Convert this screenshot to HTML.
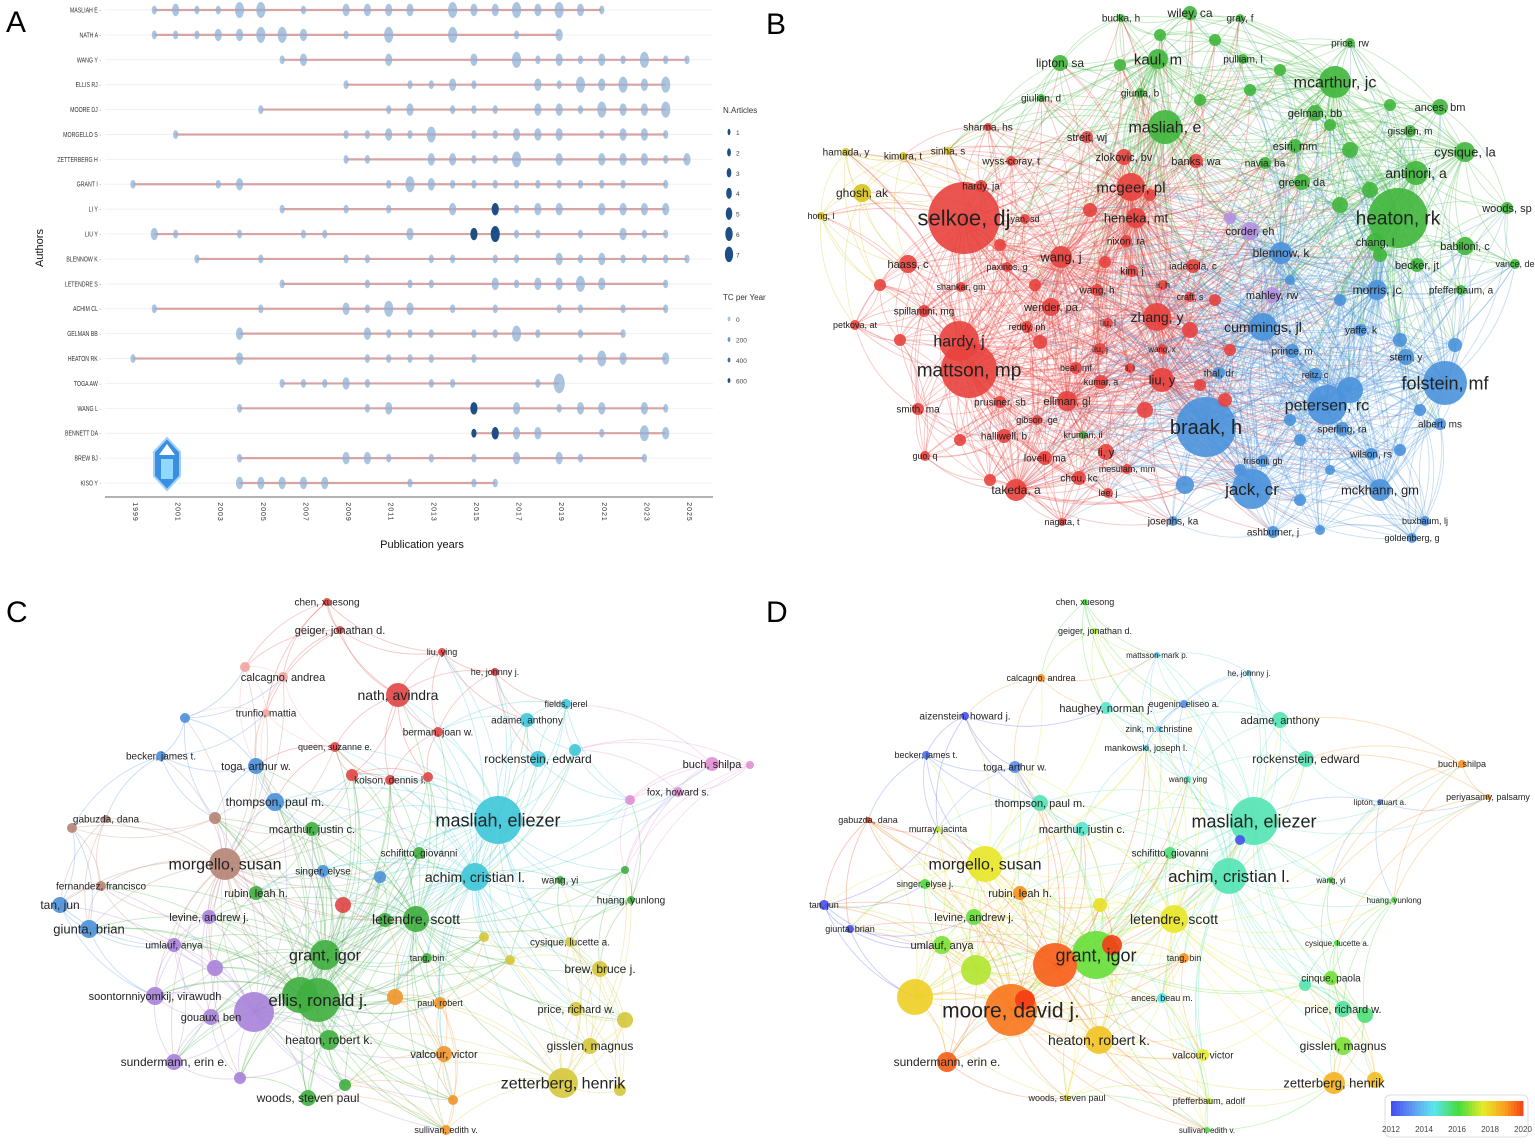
<!DOCTYPE html>
<html><head><meta charset="utf-8">
<style>
html,body{margin:0;padding:0;background:#fff;}
svg{display:block;font-family:"Liberation Sans",sans-serif;}
</style></head>
<body>
<svg id="fig" width="1535" height="1144" viewBox="0 0 1535 1144">
<rect width="1535" height="1144" fill="#fff"/>
<text x="6" y="32" font-size="30">A</text>
<text x="766" y="34" font-size="30">B</text>
<text x="6" y="622" font-size="30">C</text>
<text x="766" y="622" font-size="30">D</text>
<g id="panelA"></g>
<g id="panelB"></g>
<g id="panelC"></g>
<g id="panelD"></g>
</svg>
<script>
// ---------- Panel A data ----------
const authors = ["MASLIAH E","NATH A","WANG Y","ELLIS RJ","MOORE DJ","MORGELLO S","ZETTERBERG H","GRANT I","LI Y","LIU Y","BLENNOW K","LETENDRE S","ACHIM CL","GELMAN BB","HEATON RK","TOGA AW","WANG L","BENNETT DA","BREW BJ","KISO Y"];
const yearTicks = [1999,2001,2003,2005,2007,2009,2011,2013,2015,2017,2019,2021,2023,2025];
const pubYears = [
[2000,2001,2002,2003,2004,2005,2007,2009,2010,2011,2012,2014,2015,2016,2017,2018,2019,2020,2021],
[2000,2001,2002,2003,2004,2005,2006,2007,2009,2011,2014,2017,2019],
[2006,2007,2011,2015,2017,2018,2019,2020,2021,2022,2023,2024,2025],
[2009,2012,2013,2014,2015,2018,2019,2020,2021,2022,2023,2024],
[2005,2011,2012,2014,2015,2016,2018,2019,2020,2021,2022,2023,2024],
[2001,2009,2010,2011,2012,2013,2015,2016,2017,2018,2019,2021,2022,2023,2024],
[2009,2010,2013,2014,2015,2016,2017,2019,2021,2022,2023,2024,2025],
[1999,2003,2004,2011,2012,2013,2014,2015,2016,2017,2018,2019,2020,2021,2022,2024],
[2006,2009,2011,2014,2016,2017,2018,2019,2021,2022,2023,2024],
[2000,2001,2004,2007,2008,2012,2015,2016,2017,2018,2020,2022,2023,2024],
[2002,2005,2009,2010,2013,2014,2016,2017,2019,2020,2021,2022,2023,2024,2025],
[2006,2010,2012,2013,2016,2017,2018,2019,2020,2021,2024],
[2000,2005,2009,2010,2011,2012,2014,2016,2019,2020,2022,2024],
[2004,2010,2011,2012,2013,2015,2016,2017,2018,2020,2022],
[1999,2004,2010,2011,2012,2013,2015,2020,2021,2022,2024],
[2006,2007,2008,2009,2010,2013,2014,2018,2019],
[2004,2010,2011,2015,2017,2019,2020,2021,2023,2024],
[2015,2016,2017,2018,2021,2023,2024],
[2004,2009,2010,2011,2013,2015,2017,2019,2020,2023],
[2004,2005,2006,2007,2008,2012,2015,2016]];
const nArticles = [
[1,2,1,1,3,3,1,2,2,2,2,3,2,2,3,2,3,2,1],
[1,1,1,2,2,3,3,2,1,3,3,1,2],
[1,2,2,2,3,1,2,1,2,1,3,1,1],
[1,1,1,2,1,2,1,3,2,3,2,3],
[1,1,2,1,1,1,2,2,1,3,2,2,3],
[1,1,1,2,1,3,1,1,2,2,2,1,2,2,1],
[1,1,2,2,1,1,3,2,2,2,2,1,2],
[1,1,2,1,3,2,1,1,1,1,1,1,1,1,1,1],
[1,1,1,2,2,1,2,2,2,2,2,2],
[2,1,1,1,1,2,2,3,1,1,1,2,1,1],
[1,1,1,1,1,1,1,1,2,1,2,1,1,1,1],
[1,1,1,1,2,1,2,2,3,2,1],
[1,1,2,1,3,2,1,1,1,1,1,1],
[2,2,1,1,1,1,1,3,1,1,1],
[1,2,1,1,1,1,1,1,3,2,2],
[1,1,1,2,1,1,1,1,4],
[1,1,2,2,2,1,2,2,2,1],
[1,2,2,2,1,3,2],
[1,2,2,1,1,1,2,2,1,1],
[2,2,2,2,2,1,1,1]];
const tcHigh = [[],[],[],[],[],[],[],[],[2016],[2015,2016],[],[],[],[],[],[],[2015],[2015,2016],[],[]];
const legendN = [1,2,3,4,5,6,7];
const legendTC = [0,200,400,600];

const NS="http://www.w3.org/2000/svg";
function el(tag, attrs, parent, text){const e=document.createElementNS(NS,tag);for(const k in attrs)e.setAttribute(k,attrs[k]);if(text!==undefined)e.textContent=text;parent.appendChild(e);return e;}

(function(){
  const g=document.getElementById('panelA');
  const xS=y=>133+(y-1999)*(687-133)/26;
  const yS=i=>10+i*(483-10)/19;
  authors.forEach((a,i)=>{
    const y=yS(i);
    const gl=el('line',{x1:105,x2:713,y1:y,y2:y,stroke:'#f0f0f0','stroke-width':1},g);
    
    
    const t=el('text',{x:101,y:y+2.5,'font-size':7,'text-anchor':'end',fill:'#333',transform:`translate(${101},${y}) scale(0.75,1) translate(${-101},${-y})`},g,a+' ·');
    
    
    const ys=pubYears[i];
    const ln=el('line',{x1:xS(ys[0]),x2:xS(ys[ys.length-1]),y1:y,y2:y,stroke:'#d9a3a3','stroke-width':2.2},g);
    
    
    ys.forEach((yr,j)=>{
      const n=nArticles[i][j];
      const dark=tcHigh[i].includes(yr);
      const b=el('ellipse',{cx:xS(yr),cy:y,rx:1.6+n*1.0,ry:2.6+n*1.8,fill:dark?'#1d4f86':'#8fb0d6','fill-opacity':dark?1:0.75},g);
      
      
    });
  });
  const ax=el('line',{x1:105,x2:713,y1:497,y2:497,stroke:'#666','stroke-width':1},g);
  
  
  yearTicks.forEach(yr=>{
    const x=xS(yr);
    const tl=el('text',{x:x,y:512,'font-size':7,'text-anchor':'middle',fill:'#333',transform:`rotate(90 ${x} 512)`,'letter-spacing':'1'},g,String(yr));
    
    
  });
  const xt=el('text',{x:422,y:548,'font-size':11,'text-anchor':'middle',fill:'#111'},g,'Publication years');
  
  
  const yt=el('text',{x:43,y:248,'font-size':11,'text-anchor':'middle',fill:'#111',transform:'rotate(-90 43 248)'},g,'Authors');
  
  
  const lt=el('text',{x:723,y:113,'font-size':8,fill:'#333'},g,'N.Articles');
  
  
  legendN.forEach((n,k)=>{
    const y=132+k*20.4;
    const d=el('ellipse',{cx:729,cy:y,rx:1+n*0.45,ry:2.5+n*0.75,fill:'#1d4f86'},g);
    
    
    el('text',{x:736,y:y+3,'font-size':6.5,fill:'#444'},g,String(n));
  });
  const lt2=el('text',{x:723,y:300,'font-size':8,fill:'#333'},g,'TC per Year');
  
  
  const tcCols=['#a9c3e0','#6d95c4','#3d6ea6','#1d4f86'];
  legendTC.forEach((v,k)=>{
    const y=319+k*20.5;
    const d=el('ellipse',{cx:729,cy:y,rx:1.4,ry:2.4,fill:tcCols[k]},g);
    
    
    el('text',{x:736,y:y+3,'font-size':6.5,fill:'#444'},g,String(v));
  });
  const lg=el('g',{},g);
  
  
  el('polygon',{points:'167,438 180,452 180,476 167,490 154,476 154,452',fill:'#3a8fe0',stroke:'#9fd0ff','stroke-width':2},lg);
  el('polygon',{points:'167,444 175,455 159,455',fill:'#fff'},lg);
  el('rect',{x:161,y:459,width:12,height:20,fill:'#8fd8ff'},lg);
})();

// ---------- Network helpers ----------
function drawNetwork(gid, names, xs, ys, fs, rs, cols, k, edgeOp, bigR, bigRange){
  const g=document.getElementById(gid);
  const eg=el('g',{},g); const ng=el('g',{},g); const tg=el('g',{},g);
  const N=names.length;
  const done=new Set();
  function link(i,j){
    const key=i<j?i+'-'+j:j+'-'+i; if(done.has(key)) return; done.add(key);
    const mx=(xs[i]+xs[j])/2, my=(ys[i]+ys[j])/2;
    const dx=xs[j]-xs[i], dy=ys[j]-ys[i];
    const cx=mx-dy*0.2, cy=my+dx*0.2;
    const p=el('path',{d:`M${xs[i]},${ys[i]} Q${cx},${cy} ${xs[j]},${ys[j]}`,fill:'none',stroke:cols[i],'stroke-opacity':edgeOp,'stroke-width':0.9},eg);
    
    
  }
  for(let i=0;i<N;i++){
    const d=[];
    for(let j=0;j<N;j++) if(j!==i) d.push([Math.hypot(xs[i]-xs[j],ys[i]-ys[j]),j]);
    d.sort((a,b)=>a[0]-b[0]);
    for(let m=0;m<Math.min(k,d.length);m++) link(i,d[m][1]);
    if(rs[i]>=bigR){ d.forEach(([dist,j])=>{ if(dist<bigRange) link(i,j); }); }
  }
  for(let i=0;i<N;i++){
    const c=el('circle',{cx:xs[i],cy:ys[i],r:rs[i],fill:cols[i],'fill-opacity':0.9},ng);
    
    
    if(names[i]){
      const t=el('text',{x:xs[i],y:ys[i]+fs[i]*0.35,'font-size':fs[i],'text-anchor':'middle',fill:'#222'},tg,names[i]);
      
      
    }
  }
}

// ---------- Panel B ----------
const bCol={r:'#e8423e',g:'#40b63c',b:'#4a92db',y:'#d6c41c',p:'#b48fe2'};
const bNodes=[
["budka, h",1121,18,10,4,'g'],["wiley, ca",1190,13,12,7,'g'],["gray, f",1240,18,10,4,'g'],["price, rw",1350,43,10,5,'g'],
["lipton, sa",1060,63,12,8,'g'],["kaul, m",1158,59,15,10,'g'],["pulliam, l",1243,59,10,5,'g'],["mcarthur, jc",1335,82,16,16,'g'],
["giulian, d",1041,98,10,4,'g'],["giunta, b",1140,93,10,5,'g'],["ances, bm",1440,107,11,8,'g'],["masliah, e",1165,127,16,17,'g'],
["gelman, bb",1315,113,11,8,'g'],["sharma, hs",988,127,10,4,'r'],["streit, wj",1087,137,11,6,'r'],["gisslén, m",1410,131,10,6,'g'],
["esiri, mm",1295,146,11,7,'g'],["cysique, la",1465,152,13,10,'g'],["hamada, y",846,152,10,4,'y'],["kimura, t",903,156,10,4,'y'],
["sinha, s",948,151,10,4,'y'],["wyss-coray, t",1011,161,10,5,'r'],["zlokovic, bv",1124,157,11,8,'r'],["banks, wa",1196,161,11,7,'r'],
["navia, ba",1265,163,10,6,'g'],["antinori, a",1416,173,14,12,'g'],["mcgeer, pl",1131,187,15,14,'r'],["green, da",1302,182,11,8,'g'],
["hardy, ja",981,186,10,6,'r'],["ghosh, ak",862,193,12,9,'y'],["woods, sp",1507,208,11,6,'g'],["selkoe, dj",964,218,22,36,'r'],
["yan, sd",1025,219,9,5,'r'],["heneka, mt",1136,218,13,10,'r'],["heaton, rk",1398,218,19,30,'g'],["hong, l",821,216,9,4,'y'],
["corder, eh",1250,231,11,9,'p'],["chang, l",1375,242,11,9,'g'],["babiloni, c",1465,246,11,9,'g'],["haass, c",908,264,11,9,'r'],
["nixon, ra",1126,241,10,6,'r'],["wang, j",1061,257,13,11,'r'],["blennow, k",1281,253,12,11,'b'],["becker, jt",1417,265,11,7,'g'],
["vance, de",1515,264,9,5,'g'],["paxinos, g",1007,267,9,5,'r'],["kim, j",1132,271,10,6,'r'],["iadecola, c",1193,266,10,7,'r'],
["shankar, gm",961,287,9,5,'r'],["mahley, rw",1272,295,11,8,'p'],["morris, jc",1377,290,12,10,'b'],["pfefferbaum, a",1461,290,10,5,'g'],
["li, h",1163,285,9,5,'r'],["wang, h",1097,290,10,6,'r'],["craft, s",1190,297,9,5,'r'],["spillantini, mg",924,311,10,6,'r'],
["wender, pa",1051,307,11,9,'r'],["zhang, y",1157,317,14,14,'r'],["cummings, jl",1263,327,14,14,'b'],["petkova, at",855,325,9,5,'r'],
["reddy, ph",1027,327,9,6,'r'],["liu, l",1108,323,9,5,'r'],["yaffe, k",1361,330,10,6,'b'],["hardy, j",959,341,16,20,'r'],
["prince, m",1292,351,10,7,'b'],["mattson, mp",969,370,19,28,'r'],["liu, j",1100,349,9,6,'r'],["wang, x",1162,349,8,5,'r'],
["stern, y",1406,357,10,8,'b'],["beal, mf",1076,368,9,6,'r'],["li, l",1130,368,8,5,'r'],["liu, y",1162,380,13,12,'r'],
["kumar, a",1101,382,9,7,'r'],["thal, dr",1219,373,10,6,'b'],["reitz, c",1315,375,9,7,'b'],["folstein, mf",1445,383,18,22,'b'],
["ellman, gl",1067,401,11,10,'r'],["prusiner, sb",1000,402,10,6,'r'],["petersen, rc",1327,405,16,20,'b'],["braak, h",1206,427,20,30,'b'],
["smith, ma",918,409,10,6,'r'],["gibson, ge",1037,420,9,5,'r'],["sperling, ra",1342,429,10,7,'b'],["albert, ms",1440,424,10,6,'b'],
["halliwell, b",1004,436,10,7,'r'],["kruman, ii",1083,435,9,4,'g'],["li, y",1106,452,11,8,'r'],["wilson, rs",1371,454,10,6,'b'],
["frisoni, gb",1263,461,9,6,'b'],["guo, q",925,456,9,5,'r'],["lovell, ma",1045,458,10,7,'r'],["mesulam, mm",1127,469,9,5,'r'],
["chou, kc",1079,478,10,7,'r'],["jack, cr",1252,489,17,20,'b'],["mckhann, gm",1380,490,13,11,'b'],["takeda, a",1016,490,12,11,'r'],
["lee, j",1108,493,9,5,'r'],["nagata, t",1062,522,9,4,'r'],["josephs, ka",1173,521,10,5,'b'],["ashburner, j",1273,532,10,6,'b'],
["buxbaum, lj",1425,521,9,5,'b'],["goldenberg, g",1412,538,9,5,'b'],
["",880,285,0,6,'r'],["",900,340,0,6,'r'],["",1000,245,0,6,'r'],["",1035,285,0,6,'r'],["",1090,210,0,7,'r'],["",1150,195,0,6,'r'],
["",1105,262,0,6,'r'],["",1215,300,0,6,'r'],["",1190,330,0,8,'r'],["",1200,385,0,6,'r'],["",1145,410,0,8,'r'],["",1040,342,0,7,'r'],
["",960,440,0,6,'r'],["",990,480,0,6,'r'],["",1225,400,0,7,'r'],["",1230,350,0,6,'r'],
["",1120,65,0,6,'g'],["",1250,90,0,6,'g'],["",1215,40,0,6,'g'],["",1280,70,0,6,'g'],["",1350,150,0,8,'g'],["",1370,190,0,8,'g'],
["",1340,205,0,8,'g'],["",1380,255,0,7,'g'],["",1200,100,0,6,'g'],["",1160,35,0,6,'g'],["",1330,125,0,6,'g'],["",1390,105,0,6,'g'],
["",1230,218,0,6,'p'],["",1290,280,0,5,'b'],["",1340,300,0,6,'b'],["",1400,340,0,7,'b'],["",1420,410,0,6,'b'],["",1350,390,0,13,'b'],
["",1290,420,0,6,'b'],["",1240,470,0,6,'b'],["",1400,450,0,6,'b'],["",1300,500,0,6,'b'],["",1330,470,0,5,'b'],["",1185,485,0,9,'b'],
["",1320,530,0,5,'b'],["",1455,345,0,7,'b'],["",1300,440,0,6,'b']
];
drawNetwork('panelB', bNodes.map(n=>n[0]), bNodes.map(n=>n[1]), bNodes.map(n=>n[2]), bNodes.map(n=>n[3]), bNodes.map(n=>n[4]), bNodes.map(n=>bCol[n[5]]), 9, 0.3, 10, 260);

// ---------- Panel C ----------
const cCol={r:'#e04545',g:'#3fae3f',b:'#4a90d9',c:'#3ec6d8',p:'#a782d9',y:'#d5c63c',o:'#f0952b',br:'#b58474',pk:'#e08fd2',lr:'#f0a5a0'};
const cNodes=[
["chen, xuesong",327,602,10,4,'r'],["geiger, jonathan d.",340,630,11,4,'r'],["liu, ying",442,652,9,4,'r'],["calcagno, andrea",283,677,11,5,'lr'],
["he, johnny j.",495,672,9,4,'r'],["nath, avindra",398,695,14,12,'r'],["fields, jerel",566,704,9,5,'c'],["trunfio, mattia",266,713,10,4,'lr'],
["adame, anthony",527,720,10,7,'c'],["berman, joan w.",438,732,10,5,'r'],["becker, james t.",161,756,10,5,'b'],["queen, suzanne e.",335,747,9,5,'r'],
["rockenstein, edward",538,759,12,8,'c'],["toga, arthur w.",256,766,11,8,'b'],["buch, shilpa",712,764,11,7,'pk'],["kolson, dennis l.",390,780,10,5,'r'],
["fox, howard s.",678,792,10,5,'pk'],["thompson, paul m.",275,802,12,9,'b'],["gabuzda, dana",106,819,10,4,'br'],["masliah, eliezer",498,820,18,24,'c'],
["mcarthur, justin c.",312,829,11,7,'g'],["schifitto, giovanni",419,853,10,6,'g'],["morgello, susan",225,864,16,16,'br'],["singer, elyse",323,871,10,6,'b'],
["wang, yi",560,880,10,4,'g'],["achim, cristian l.",475,877,14,14,'c'],["fernandez, francisco",101,886,10,5,'br'],["rubin, leah h.",256,893,11,7,'g'],
["huang, yunlong",631,900,10,4,'g'],["tan, jun",60,905,12,8,'b'],["letendre, scott",416,919,14,13,'g'],["giunta, brian",89,929,13,9,'b'],
["levine, andrew j.",209,917,11,7,'p'],["cysique, lucette a.",570,942,10,5,'y'],["umlauf, anya",174,945,10,7,'p'],["grant, igor",325,955,16,15,'g'],
["tang, bin",427,958,9,5,'g'],["brew, bruce j.",600,969,12,8,'y'],["soontornniyomkij, virawudh",155,996,11,9,'p'],["ellis, ronald j.",318,1000,17,22,'g'],
["paul, robert",440,1003,9,6,'o'],["price, richard w.",576,1009,11,7,'y'],["gouaux, ben",211,1017,11,8,'p'],["heaton, robert k.",329,1040,12,10,'g'],
["valcour, victor",444,1054,11,8,'o'],["gisslen, magnus",590,1046,12,8,'y'],["sundermann, erin e.",174,1062,12,8,'p'],["zetterberg, henrik",563,1083,16,15,'y'],
["woods, steven paul",308,1098,12,8,'g'],["sullivan, edith v.",446,1130,9,5,'o'],
["",254,1012,0,20,'p'],["",300,995,0,18,'g'],["",395,997,0,8,'o'],["",343,905,0,8,'r'],["",385,920,0,7,'g'],["",380,877,0,6,'b'],
["",625,1020,0,8,'y'],["",510,960,0,5,'y'],["",484,937,0,5,'y'],["",575,750,0,6,'c'],["",185,718,0,5,'b'],["",215,818,0,6,'br'],
["",72,828,0,5,'br'],["",630,800,0,5,'pk'],["",750,765,0,4,'pk'],["",215,968,0,8,'p'],["",240,1078,0,6,'p'],["",453,1100,0,5,'o'],
["",620,1090,0,6,'y'],["",345,1085,0,6,'g'],["",245,667,0,5,'lr'],["",428,777,0,5,'r'],["",352,775,0,6,'r'],["",625,870,0,4,'g']
];
drawNetwork('panelC', cNodes.map(n=>n[0]), cNodes.map(n=>n[1]), cNodes.map(n=>n[2]), cNodes.map(n=>n[3]), cNodes.map(n=>n[4]), cNodes.map(n=>cCol[n[5]]), 6, 0.3, 13, 240);

// ---------- Panel D ----------
const dScaleYears=[2012,2014,2016,2018,2020];
const dNames=["chen, xuesong","geiger, jonathan d.","mattsson-mark p.","calcagno, andrea","he, johnny j.","haughey, norman j.","eugenin, eliseo a.","aizenstein, howard j.","adame, anthony","zink, m. christine","becker, james t.","toga, arthur w.","mankowski, joseph l.","rockenstein, edward","buch, shilpa","wang, ying","lipton, stuart a.","periyasamy, palsamy","thompson, paul m.","gabuzda, dana","murray, jacinta","masliah, eliezer","mcarthur, justin c.","schifitto, giovanni","morgello, susan","achim, cristian l.","singer, elyse j.","rubin, leah h.","wang, yi","huang, yunlong","tan, jun","letendre, scott","levine, andrew j.","giunta, brian","umlauf, anya","cysique, lucette a.","grant, igor","tang, bin","cinque, paola","moore, david j.","ances, beau m.","price, richard w.","heaton, robert k.","gisslen, magnus","sundermann, erin e.","valcour, victor","zetterberg, henrik","woods, steven paul","pfefferbaum, adolf","sullivan, edith v.","","","","","","","","","",""];
const dX=[1085,1095,1157,1041,1249,1106,1184,965,1280,1159,926,1015,1146,1306,1462,1188,1380,1488,1040,868,938,1254,1082,1170,985,1229,925,1020,1331,1394,824,1174,974,850,942,1337,1096,1184,1331,1011,1162,1343,1099,1343,947,1203,1334,1067,1209,1207,  915,976,1055,1025,1112,1100,1365,1305,1375,1240];
const dY=[602,631,655,678,673,708,704,716,720,729,755,767,748,759,764,779,802,797,803,820,829,821,829,853,864,876,884,893,880,900,905,919,917,929,945,943,955,958,978,1010,998,1009,1040,1046,1062,1055,1083,1098,1101,1130,  997,970,965,1000,945,905,1015,985,1080,840];
const dFs=[9,9,8,9,8,11,9,10,11,9,9,10,9,12,9,8,8,9,11,9,9,18,11,10,16,17,9,11,8,8,9,14,11,9,11,8,18,9,10,21,9,11,14,12,12,10,13,9,9,8, 0,0,0,0,0,0,0,0,0,0];
const dR=[3,3,3,4,3,6,4,4,8,3,4,6,3,8,4,3,3,3,8,3,3,24,7,6,18,18,5,7,3,3,5,14,8,4,9,3,24,5,7,26,5,8,14,9,10,6,11,3,3,3, 18,15,22,10,10,7,8,6,8,5];
const dYear=[2016,2017,2014,2019,2014,2014.8,2013,2012,2015,2014,2012.5,2013,2014,2015,2019,2015,2013,2019,2015,2020,2017,2015,2014.8,2015.5,2017.6,2015,2016,2019,2016,2016,2012,2017.6,2016.3,2012,2016.5,2016,2016.3,2019,2016.4,2019.3,2014.5,2015.2,2018.2,2016.5,2019.6,2017.5,2018.5,2017.8,2017,2016, 2018,2017,2019.6,2020,2020,2017.7,2015.5,2015,2018.3,2012];
function yearColor(v){
  const stops=[[2012,[70,80,240]],[2013.5,[100,170,240]],[2014.5,[90,230,240]],[2016,[70,220,60]],[2017.5,[230,235,40]],[2018.8,[250,160,30]],[2020,[245,60,20]]];
  if(v<=stops[0][0]) return `rgb(${stops[0][1]})`;
  for(let i=1;i<stops.length;i++){ if(v<=stops[i][0]){const a=stops[i-1],b=stops[i];const t=(v-a[0])/(b[0]-a[0]);return 'rgb('+a[1].map((c,k)=>Math.round(c+(b[1][k]-c)*t)).join(',')+')';}}
  return `rgb(${stops[stops.length-1][1]})`;
}
drawNetwork('panelD', dNames, dX, dY, dFs, dR, dYear.map(yearColor), 6, 0.3, 13, 240);
(function(){
  const g=document.getElementById('panelD');
  const box=el('rect',{x:1385,y:1095,width:143,height:42,rx:5,fill:'#fff',stroke:'#ddd'},g);
  
  
  const x0=1391,x1=1523;
  for(let i=0;i<44;i++){
    const v=2012+8*i/44;
    const r=el('rect',{x:x0+i*(x1-x0)/44,y:1101,width:(x1-x0)/44+0.5,height:15,fill:yearColor(v)},g);
    
    
  }
  dScaleYears.forEach(yv=>{
    const x=x0+(yv-2012)/8*(x1-x0);
    const t=el('text',{x:x,y:1132,'font-size':8,'text-anchor':'middle',fill:'#444'},g,String(yv));
    
    
  });
})();
</script>
</body></html>
